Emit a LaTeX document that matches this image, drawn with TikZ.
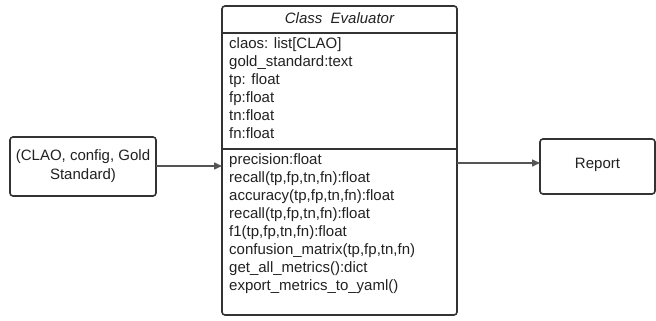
\documentclass[tikz,border=0pt]{standalone}
\usepackage{fontspec}
\setmainfont{Liberation Sans}
\usetikzlibrary{arrows.meta}
\definecolor{edge}{HTML}{333333}
\definecolor{arr}{HTML}{555555}
\definecolor{txt}{HTML}{222222}
\tikzset{
  box/.style={draw=edge, line width=1.6pt, rounded corners=3pt, fill=white},
  divider/.style={draw=edge, line width=1.6pt},
  txtline/.style={anchor=base west, inner sep=0pt, text=txt, font=\fontsize{15}{17}\selectfont},
  conn/.style={draw=arr, line width=1.5pt, -{Triangle[length=8pt,width=7pt]}},
}
\begin{document}
\begin{tikzpicture}[x=1pt,y=1pt]
\useasboundingbox (0,0) rectangle (656,321);
% class box
\draw[box] (222,6) rectangle (457,315);
\coordinate (d1l) at (222,288); \coordinate (d1r) at (457,288);
\coordinate (d2l) at (222,172); \coordinate (d2r) at (457,172);
\draw[divider] (d1l) -- (d1r);
\draw[divider] (d2l) -- (d2r);
\node[anchor=base, inner sep=0pt, text=txt, font=\fontsize{15}{17}\selectfont\itshape] (title) at (339.5,297) {Class\ \ Evaluator};
\node[txtline] (a1) at (229,272) {claos: list[CLAO]};
\node[txtline] (a2) at (229,254) {gold\_standard:text};
\node[txtline] (a3) at (229,236) {tp: float};
\node[txtline] (a4) at (229,218) {fp:float};
\node[txtline] (a5) at (229,200) {tn:float};
\node[txtline] (a6) at (229,182) {fn:float};
\node[txtline] (m1) at (229,156) {precision:float};
\node[txtline] (m2) at (229,138) {recall(tp,fp,tn,fn):float};
\node[txtline] (m3) at (229,120) {accuracy(tp,fp,tn,fn):float};
\node[txtline] (m4) at (229,102) {recall(tp,fp,tn,fn):float};
\node[txtline] (m5) at (229,84) {f1(tp,fp,tn,fn):float};
\node[txtline] (m6) at (229,66) {confusion\_matrix(tp,fp,tn,fn)};
\node[txtline] (m7) at (229,48) {get\_all\_metrics():dict};
\node[txtline] (m8) at (229,30) {export\_metrics\_to\_yaml()};
% left box
\draw[box] (10,125) rectangle (156,184);
\node[align=center, text=txt, font=\fontsize{15}{19}\selectfont] (inp) at (83,154.5) {(CLAO, config, Gold\\Standard)};
\coordinate (inr) at (156,155);
\coordinate (clsl) at (222,155);
% report box
\draw[box] (540,127) rectangle (655,182);
\node[text=txt, font=\fontsize{15}{17}\selectfont] (rep) at (597.5,156) {Report};
\coordinate (clsr) at (457,158);
\coordinate (repl) at (540,158);
\draw[conn] (inr) -- (clsl);
\draw[conn] (clsr) -- (repl);
\end{tikzpicture}
\end{document}
